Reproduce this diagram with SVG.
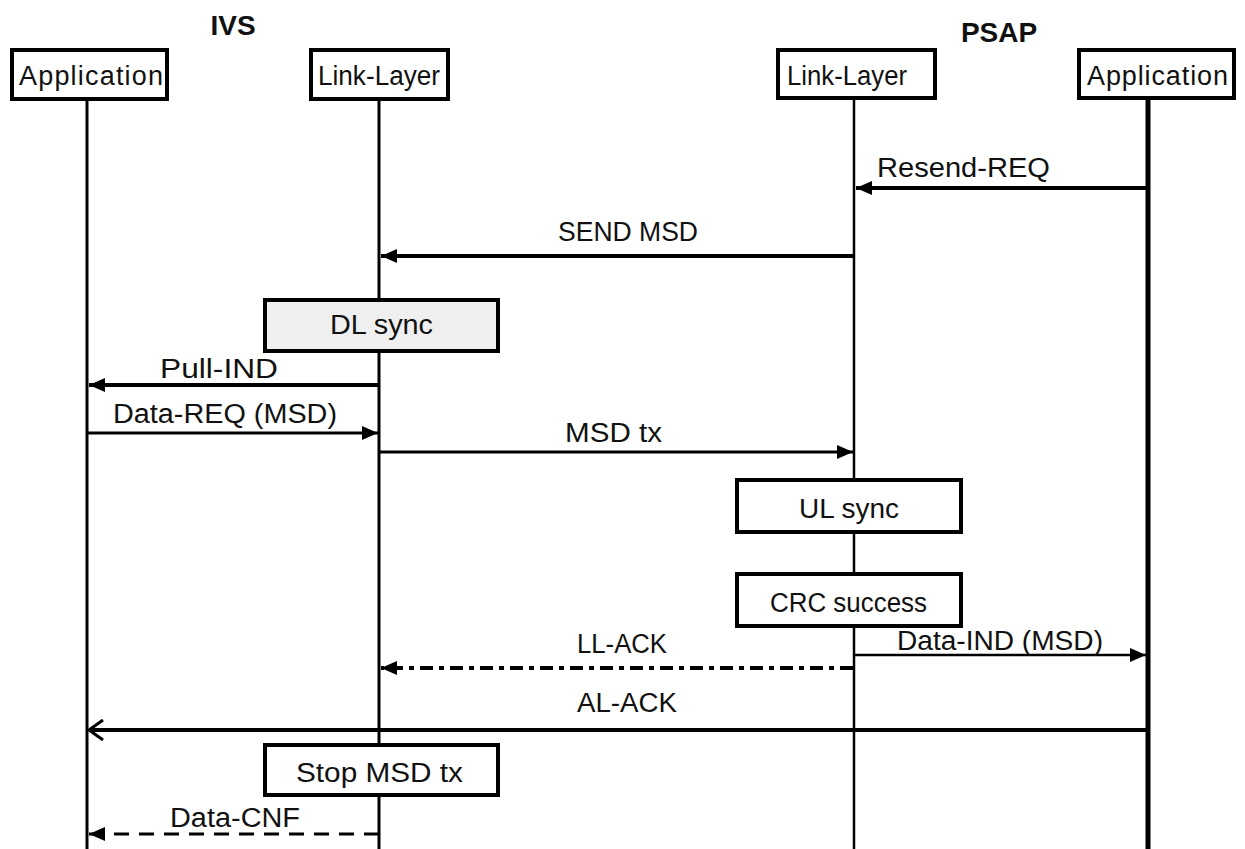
<svg xmlns="http://www.w3.org/2000/svg" width="1245" height="849" viewBox="0 0 1245 849">
<style>
text{font-family:"Liberation Sans",Arial,sans-serif;font-size:27px;fill:#111;}
.title{font-weight:bold;font-size:28px;}
.hdr{fill:#fff;stroke:#000;stroke-width:4;}
.box{fill:#fff;stroke:#000;stroke-width:4;}
.life{stroke:#000;fill:none;}
.msg{stroke:#000;fill:none;}
</style>
<defs>
<marker id="ah" markerUnits="userSpaceOnUse" markerWidth="18" markerHeight="14" refX="16" refY="7" orient="auto">
<path d="M0,0 L16,7 L0,14 z" fill="#000"/>
</marker>
<marker id="open" markerUnits="userSpaceOnUse" markerWidth="20" markerHeight="22" refX="17" refY="11" orient="auto">
<path d="M3,1 L17,11 L3,21" fill="none" stroke="#000" stroke-width="3"/>
</marker>
</defs>
<rect width="1245" height="849" fill="#fff"/>
<text class="title" x="233" y="35" text-anchor="middle">IVS</text>
<text class="title" x="999" y="42" text-anchor="middle">PSAP</text>

<g id="lifelines">
<line class="life" x1="87" y1="99" x2="87" y2="849" stroke-width="3"/>
<line class="life" x1="379" y1="99" x2="379" y2="849" stroke-width="3"/>
<line class="life" x1="854" y1="99" x2="854" y2="849" stroke-width="2.5"/>
<line class="life" x1="1148" y1="99" x2="1148" y2="849" stroke-width="5"/>
</g>

<g id="ivs-app">
<rect class="hdr" x="12" y="50" width="155" height="49"/>
<text x="19" y="85" textLength="144" lengthAdjust="spacing">Application</text>
</g>
<g id="ivs-ll">
<rect class="hdr" x="311" y="50" width="137" height="49"/>
<text x="318" y="85" textLength="122" lengthAdjust="spacingAndGlyphs">Link-Layer</text>
</g>
<g id="psap-ll">
<rect class="hdr" x="778" y="50" width="157" height="48"/>
<text x="787" y="85" textLength="120" lengthAdjust="spacingAndGlyphs">Link-Layer</text>
</g>
<g id="psap-app">
<rect class="hdr" x="1079" y="50" width="155" height="48"/>
<text x="1087" y="85" textLength="141" lengthAdjust="spacing">Application</text>
</g>

<g id="dl-sync">
<rect x="265" y="300" width="233" height="51" fill="#efefef" stroke="#000" stroke-width="4"/>
<text x="330" y="334" textLength="103" lengthAdjust="spacingAndGlyphs">DL sync</text>
</g>
<g id="ul-sync">
<rect class="box" x="737" y="480" width="224" height="52"/>
<text x="799" y="518" textLength="100" lengthAdjust="spacingAndGlyphs">UL sync</text>
</g>
<g id="crc-success">
<rect class="box" x="737" y="574" width="224" height="52"/>
<text x="770" y="612" textLength="157" lengthAdjust="spacingAndGlyphs">CRC success</text>
</g>
<g id="stop-msd">
<rect class="box" x="265" y="745" width="233" height="50"/>
<text x="296" y="782" textLength="167" lengthAdjust="spacingAndGlyphs">Stop MSD tx</text>
</g>

<g id="connectors">
<line class="msg" x1="1148" y1="188" x2="856" y2="188" stroke-width="4" marker-end="url(#ah)"/>
<line class="msg" x1="854" y1="256" x2="381" y2="256" stroke-width="4" marker-end="url(#ah)"/>
<line class="msg" x1="379" y1="385" x2="89" y2="385" stroke-width="4" marker-end="url(#ah)"/>
<line class="msg" x1="87" y1="433" x2="378" y2="433" stroke-width="3" marker-end="url(#ah)"/>
<line class="msg" x1="379" y1="452" x2="853" y2="452" stroke-width="3" marker-end="url(#ah)"/>
<line class="msg" x1="854" y1="655" x2="1146" y2="655" stroke-width="2.5" marker-end="url(#ah)"/>
<line class="msg" x1="853" y1="668" x2="381" y2="668" stroke-width="4" stroke-dasharray="13 6 5 6" marker-end="url(#ah)"/>
<line class="msg" x1="1148" y1="730" x2="89" y2="730" stroke-width="4" marker-end="url(#open)"/>
<line class="msg" x1="379" y1="834" x2="89" y2="834" stroke-width="3" stroke-dasharray="15 10" marker-end="url(#ah)"/>
</g>

<g id="labels">
<text x="877" y="177" textLength="173" lengthAdjust="spacingAndGlyphs">Resend-REQ</text>
<text x="558" y="241" textLength="140" lengthAdjust="spacingAndGlyphs">SEND MSD</text>
<text x="160" y="378" textLength="118" lengthAdjust="spacingAndGlyphs">Pull-IND</text>
<text x="113" y="423" textLength="224" lengthAdjust="spacingAndGlyphs">Data-REQ (MSD)</text>
<text x="565" y="442" textLength="97" lengthAdjust="spacingAndGlyphs">MSD tx</text>
<text x="897" y="650" textLength="206" lengthAdjust="spacingAndGlyphs">Data-IND (MSD)</text>
<text x="577" y="653" textLength="90" lengthAdjust="spacingAndGlyphs">LL-ACK</text>
<text x="577" y="712" textLength="100" lengthAdjust="spacingAndGlyphs">AL-ACK</text>
<text x="170" y="827" textLength="130" lengthAdjust="spacingAndGlyphs">Data-CNF</text>
</g>
</svg>
